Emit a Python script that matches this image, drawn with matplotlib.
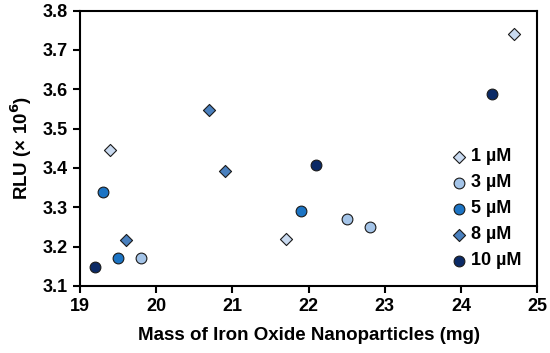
import numpy as np
import matplotlib
matplotlib.use("Agg")
import matplotlib.pyplot as plt

plt.rcParams['font.family'] = ['Liberation Sans', 'DejaVu Sans']
plt.rcParams['font.weight'] = 'bold'

# data
labels = ["1 µM", "3 µM", "5 µM", "8 µM", "10 µM"]
mass_1 = [19.4, 21.7, 24.7]
rlu_1 = [3.445, 3.22, 3.74]
mass_3 = [19.8, 22.5, 22.8]
rlu_3 = [3.172, 3.27, 3.25]
mass_5 = [19.3, 19.5, 21.9]
rlu_5 = [3.34, 3.172, 3.29]
mass_8 = [19.6, 20.7, 20.9]
rlu_8 = [3.218, 3.548, 3.393]
mass_10 = [19.2, 22.1, 24.4]
rlu_10 = [3.147, 3.408, 3.587]

series = [(mass_1, rlu_1, 'D', '#C9DAF0', 38),
          (mass_3, rlu_3, 'o', '#A4C4E8', 60),
          (mass_5, rlu_5, 'o', '#1C74C4', 60),
          (mass_8, rlu_8, 'D', '#4A80BE', 38),
          (mass_10, rlu_10, 'o', '#0B2A66', 60)]

fig, ax = plt.subplots(figsize=(5.5, 3.53), dpi=100)
for (x, y, m, c, s), lab in zip(series, labels):
    ax.scatter(x, y, marker=m, s=s, color=c, edgecolors='#1a1a1a',
               linewidths=0.8, label=lab, zorder=3)

ax.set_xlim(19, 25)
ax.set_ylim(3.1, 3.8)
ax.set_xticks(np.arange(19, 26, 1))
ax.set_yticks(np.arange(3.1, 3.81, 0.1))
ax.set_yticklabels([f"{v:.1f}" for v in np.arange(3.1, 3.81, 0.1)])
ax.tick_params(labelsize=13, width=1.5, length=5, direction='out')
for sp in ax.spines.values():
    sp.set_linewidth(1.5)

ax.set_xlabel("Mass of Iron Oxide Nanoparticles (mg)", fontsize=13.5, fontweight='bold', labelpad=9)
ax.set_ylabel("RLU (× 10$^{\\mathbf{6}}$)", fontsize=13.5, fontweight='bold', labelpad=6)

ax.legend(loc='lower right', frameon=False, fontsize=13, handletextpad=0.15,
          labelspacing=0.5, borderpad=0, borderaxespad=0, handlelength=1.0,
          bbox_to_anchor=(0.965, 0.06))

fig.subplots_adjust(left=0.145, right=0.977, top=0.97, bottom=0.19)
fig.savefig("out.png", dpi=100)
